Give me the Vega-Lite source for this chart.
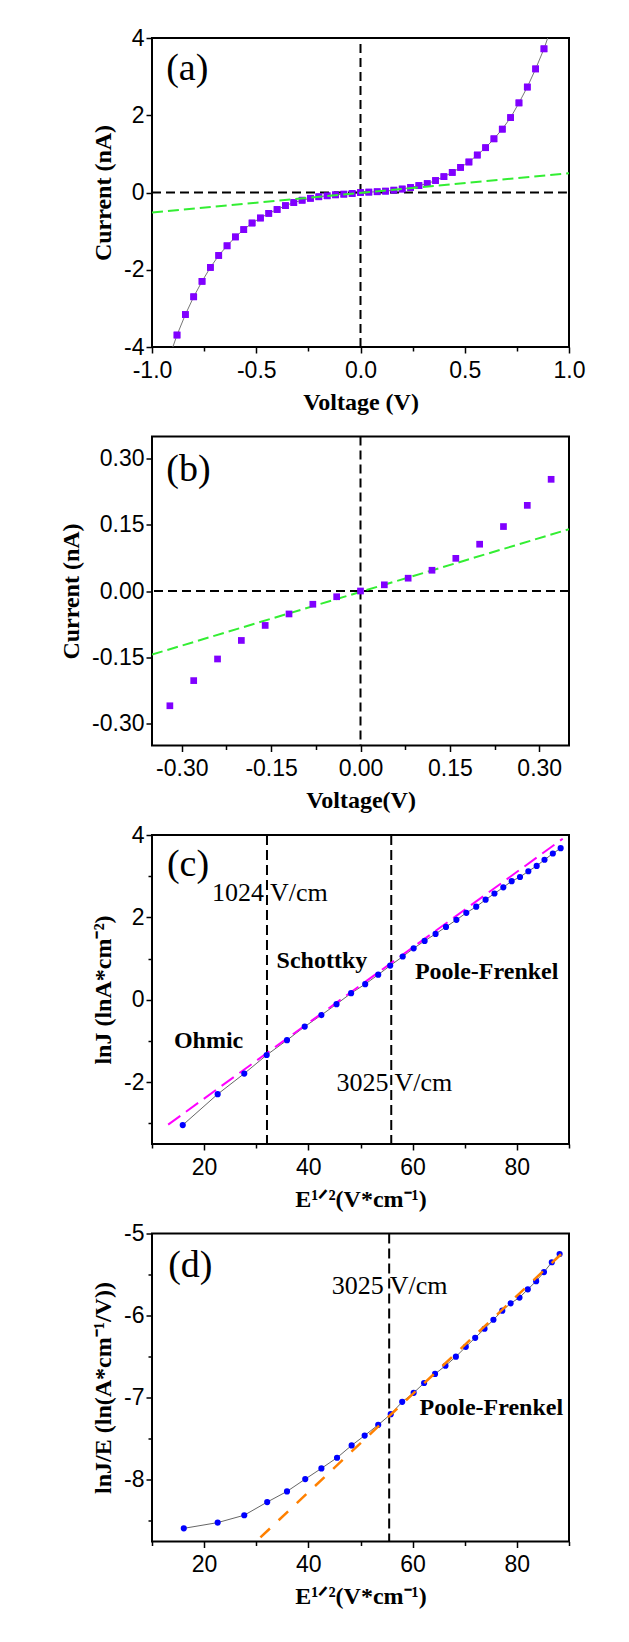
{
  "$schema": "https://vega.github.io/schema/vega-lite/v6.json",
  "padding": {"left": 58, "top": 26, "right": 10, "bottom": 10},
  "background": "white",
  "spacing": 89.5,
  "bounds": "flush",
  "datasets": {
    "a_pts": [
      {"x": -0.88, "y": -3.69}, {"x": -0.84, "y": -3.16}, {"x": -0.80, "y": -2.70}, {"x": -0.76, "y": -2.30},
      {"x": -0.72, "y": -1.94}, {"x": -0.68, "y": -1.63}, {"x": -0.64, "y": -1.38}, {"x": -0.60, "y": -1.15},
      {"x": -0.56, "y": -0.96}, {"x": -0.52, "y": -0.79}, {"x": -0.48, "y": -0.66}, {"x": -0.44, "y": -0.54},
      {"x": -0.40, "y": -0.44}, {"x": -0.36, "y": -0.34}, {"x": -0.32, "y": -0.26}, {"x": -0.28, "y": -0.20},
      {"x": -0.24, "y": -0.15}, {"x": -0.20, "y": -0.11}, {"x": -0.16, "y": -0.085}, {"x": -0.12, "y": -0.06},
      {"x": -0.08, "y": -0.043}, {"x": -0.04, "y": -0.026}, {"x": 0, "y": 0}, {"x": 0.04, "y": 0.01},
      {"x": 0.08, "y": 0.02}, {"x": 0.12, "y": 0.035}, {"x": 0.16, "y": 0.06}, {"x": 0.20, "y": 0.09},
      {"x": 0.24, "y": 0.13}, {"x": 0.28, "y": 0.18}, {"x": 0.32, "y": 0.23}, {"x": 0.36, "y": 0.31},
      {"x": 0.40, "y": 0.41}, {"x": 0.44, "y": 0.52}, {"x": 0.48, "y": 0.65}, {"x": 0.52, "y": 0.79},
      {"x": 0.56, "y": 0.97}, {"x": 0.60, "y": 1.16}, {"x": 0.64, "y": 1.39}, {"x": 0.68, "y": 1.64},
      {"x": 0.72, "y": 1.94}, {"x": 0.76, "y": 2.32}, {"x": 0.80, "y": 2.73}, {"x": 0.84, "y": 3.20},
      {"x": 0.88, "y": 3.72}
    ],
    "a_curve": [
      {"x": -0.90, "y": -4}, {"x": -0.88, "y": -3.69}, {"x": -0.84, "y": -3.16}, {"x": -0.80, "y": -2.70}, {"x": -0.76, "y": -2.30},
      {"x": -0.72, "y": -1.94}, {"x": -0.68, "y": -1.63}, {"x": -0.64, "y": -1.38}, {"x": -0.60, "y": -1.15},
      {"x": -0.56, "y": -0.96}, {"x": -0.52, "y": -0.79}, {"x": -0.48, "y": -0.66}, {"x": -0.44, "y": -0.54},
      {"x": -0.40, "y": -0.44}, {"x": -0.36, "y": -0.34}, {"x": -0.32, "y": -0.26}, {"x": -0.28, "y": -0.20},
      {"x": -0.24, "y": -0.15}, {"x": -0.20, "y": -0.11}, {"x": -0.16, "y": -0.085}, {"x": -0.12, "y": -0.06},
      {"x": -0.08, "y": -0.043}, {"x": -0.04, "y": -0.026}, {"x": 0, "y": 0}, {"x": 0.04, "y": 0.01},
      {"x": 0.08, "y": 0.02}, {"x": 0.12, "y": 0.035}, {"x": 0.16, "y": 0.06}, {"x": 0.20, "y": 0.09},
      {"x": 0.24, "y": 0.13}, {"x": 0.28, "y": 0.18}, {"x": 0.32, "y": 0.23}, {"x": 0.36, "y": 0.31},
      {"x": 0.40, "y": 0.41}, {"x": 0.44, "y": 0.52}, {"x": 0.48, "y": 0.65}, {"x": 0.52, "y": 0.79},
      {"x": 0.56, "y": 0.97}, {"x": 0.60, "y": 1.16}, {"x": 0.64, "y": 1.39}, {"x": 0.68, "y": 1.64},
      {"x": 0.72, "y": 1.94}, {"x": 0.76, "y": 2.32}, {"x": 0.80, "y": 2.73}, {"x": 0.84, "y": 3.20},
      {"x": 0.88, "y": 3.72}, {"x": 0.898, "y": 4}
    ],
    "a_fit": [{"x": -1, "y": -0.52}, {"x": 1, "y": 0.50}],
    "a_vline": [{"x": 0, "y": -4, "y2": 3.86}],
    "a_hline": [{"y": 0, "x": -1, "x2": 0.99}],
    "a_label": [{"x": -0.932, "y": 3.21, "label": "(a)"}],
    "b_pts": [
      {"x": -0.32, "y": -0.260}, {"x": -0.28, "y": -0.203}, {"x": -0.24, "y": -0.154}, {"x": -0.20, "y": -0.112},
      {"x": -0.16, "y": -0.078}, {"x": -0.12, "y": -0.052}, {"x": -0.08, "y": -0.030}, {"x": -0.04, "y": -0.013},
      {"x": 0, "y": 0}, {"x": 0.04, "y": 0.014}, {"x": 0.08, "y": 0.029}, {"x": 0.12, "y": 0.047},
      {"x": 0.16, "y": 0.074}, {"x": 0.20, "y": 0.106}, {"x": 0.24, "y": 0.146}, {"x": 0.28, "y": 0.194},
      {"x": 0.32, "y": 0.253}
    ],
    "b_fit": [{"x": -0.35, "y": -0.144}, {"x": 0.35, "y": 0.140}],
    "b_vline": [{"x": 0}],
    "b_hline": [{"y": 0}],
    "b_label": [{"x": -0.326, "y": 0.275, "label": "(b)"}],
    "c_pts": [
      {"x": 15.9, "y": -3.04}, {"x": 22.6, "y": -2.29}, {"x": 27.7, "y": -1.79}, {"x": 32.0, "y": -1.34},
      {"x": 35.9, "y": -0.98}, {"x": 39.3, "y": -0.65}, {"x": 42.5, "y": -0.37}, {"x": 45.4, "y": -0.105},
      {"x": 48.2, "y": 0.16}, {"x": 50.9, "y": 0.38}, {"x": 53.4, "y": 0.61}, {"x": 55.7, "y": 0.83},
      {"x": 58.1, "y": 1.05}, {"x": 60.2, "y": 1.25}, {"x": 62.3, "y": 1.43}, {"x": 64.4, "y": 1.60},
      {"x": 66.4, "y": 1.77}, {"x": 68.4, "y": 1.94}, {"x": 70.3, "y": 2.11}, {"x": 72.2, "y": 2.26},
      {"x": 74.0, "y": 2.43}, {"x": 75.7, "y": 2.58}, {"x": 77.4, "y": 2.73}, {"x": 79.0, "y": 2.88},
      {"x": 80.6, "y": 2.98}, {"x": 82.2, "y": 3.12}, {"x": 83.8, "y": 3.25}, {"x": 85.3, "y": 3.40},
      {"x": 86.9, "y": 3.55}, {"x": 88.4, "y": 3.68}
    ],
    "c_fit": [{"x": 13.1, "y": -3.03}, {"x": 88.8, "y": 3.91}],
    "c_vline": [{"x": 32.06}, {"x": 55.9}],
    "c_label": [{"x": 12.87, "y": 3.27, "label": "(c)"}],
    "c_note": [{"x": 32.6, "y": 2.585, "label": "1024 V/cm"}, {"x": 56.5, "y": -2.01, "label": "3025 V/cm"}],
    "c_region": [{"x": 42.6, "y": 0.93, "label": "Schottky"}, {"x": 74.2, "y": 0.685, "label": "Poole-Frenkel"}, {"x": 20.85, "y": -1.01, "label": "Ohmic"}],
    "d_pts": [
      {"x": 16.1, "y": -8.59}, {"x": 22.6, "y": -8.52}, {"x": 27.7, "y": -8.43}, {"x": 32.1, "y": -8.27},
      {"x": 35.9, "y": -8.14}, {"x": 39.4, "y": -7.99}, {"x": 42.5, "y": -7.86}, {"x": 45.5, "y": -7.73},
      {"x": 48.3, "y": -7.58}, {"x": 50.8, "y": -7.46}, {"x": 53.4, "y": -7.33}, {"x": 55.8, "y": -7.20},
      {"x": 58.0, "y": -7.05}, {"x": 60.2, "y": -6.94}, {"x": 62.2, "y": -6.82}, {"x": 64.3, "y": -6.71},
      {"x": 66.3, "y": -6.61}, {"x": 68.3, "y": -6.50}, {"x": 70.2, "y": -6.38}, {"x": 72.0, "y": -6.27},
      {"x": 73.8, "y": -6.16}, {"x": 75.5, "y": -6.05}, {"x": 77.2, "y": -5.94}, {"x": 78.8, "y": -5.85},
      {"x": 80.5, "y": -5.78}, {"x": 82.1, "y": -5.68}, {"x": 83.7, "y": -5.58}, {"x": 85.2, "y": -5.47},
      {"x": 86.7, "y": -5.35}, {"x": 88.2, "y": -5.25}
    ],
    "d_fit": [{"x": 30.8, "y": -8.70}, {"x": 88.7, "y": -5.24}],
    "d_vline": [{"x": 55.5}],
    "d_label": [{"x": 13.1, "y": -5.39, "label": "(d)"}],
    "d_note": [{"x": 55.6, "y": -5.64, "label": "3025 V/cm"}],
    "d_region": [{"x": 75.1, "y": -7.13, "label": "Poole-Frenkel"}]
  },
  "vconcat": [
    {
      "width": 417, "height": 309,
      "layer": [
        {
          "data": {"name": "a_pts"},
          "mark": {"type": "square", "size": 45, "opacity": 1, "color": "#8000ff"},
          "encoding": {
            "x": {"field": "x", "type": "quantitative", "title": "Voltage (V)",
              "scale": {"domain": [-1, 1], "nice": false, "zero": false},
              "axis": {"values": [-1, -0.75, -0.5, -0.25, 0, 0.25, 0.5, 0.75, 1], "format": ".1f",
                "labelExpr": "indexof([-0.75, -0.25, 0.25, 0.75], datum.value) >= 0 ? '' : replace(datum.label, '\u2212', '-')",
                "tickSize": {"condition": {"test": "indexof([-0.75, -0.25, 0.25, 0.75], datum.value) >= 0", "value": 4}, "value": 6}}},
            "y": {"field": "y", "type": "quantitative", "title": "Current (nA)",
              "scale": {"domain": [-4, 4], "nice": false, "zero": false},
              "axis": {"values": [-4, -3, -2, -1, 0, 1, 2, 3, 4], "format": ".0f",
                "labelExpr": "indexof([-3, -1, 1, 3], datum.value) >= 0 ? '' : replace(datum.label, '\u2212', '-')",
                "tickSize": {"condition": {"test": "indexof([-3, -1, 1, 3], datum.value) >= 0", "value": 4}, "value": 6}}}
          }
        },
        {
          "data": {"name": "a_curve"},
          "mark": {"type": "line", "color": "#777777", "strokeWidth": 1, "clip": true},
          "encoding": {
            "x": {"field": "x", "type": "quantitative", "title": "Voltage (V)"},
            "y": {"field": "y", "type": "quantitative", "title": "Current (nA)"}
          }
        },
        {
          "data": {"name": "a_vline"},
          "mark": {"type": "rule", "color": "#000", "strokeWidth": 2, "strokeDash": [9, 5]},
          "encoding": {
            "x": {"field": "x", "type": "quantitative", "title": "Voltage (V)"},
            "y": {"field": "y", "type": "quantitative", "title": "Current (nA)"},
            "y2": {"field": "y2"}
          }
        },
        {
          "data": {"name": "a_hline"},
          "mark": {"type": "rule", "color": "#000", "strokeWidth": 2, "strokeDash": [9, 5]},
          "encoding": {
            "x": {"field": "x", "type": "quantitative", "title": "Voltage (V)"},
            "x2": {"field": "x2"},
            "y": {"field": "y", "type": "quantitative", "title": "Current (nA)"}
          }
        },
        {
          "data": {"name": "a_pts"},
          "mark": {"type": "square", "size": 45, "opacity": 1, "color": "#8000ff"},
          "encoding": {
            "x": {"field": "x", "type": "quantitative", "title": "Voltage (V)"},
            "y": {"field": "y", "type": "quantitative", "title": "Current (nA)"}
          }
        },
        {
          "data": {"name": "a_fit"},
          "mark": {"type": "line", "color": "#33ee33", "strokeWidth": 2, "strokeDash": [11, 5], "clip": true},
          "encoding": {
            "x": {"field": "x", "type": "quantitative", "title": "Voltage (V)"},
            "y": {"field": "y", "type": "quantitative", "title": "Current (nA)"}
          }
        },
        {
          "data": {"name": "a_label"},
          "mark": {"type": "text", "font": "Liberation Serif", "fontSize": 38, "align": "left", "baseline": "middle", "color": "#000"},
          "encoding": {
            "x": {"field": "x", "type": "quantitative", "title": "Voltage (V)"},
            "y": {"field": "y", "type": "quantitative", "title": "Current (nA)"},
            "text": {"field": "label"}
          }
        }
      ]
    },
    {
      "width": 417, "height": 309,
      "layer": [
        {
          "data": {"name": "b_vline"},
          "mark": {"type": "rule", "color": "#000", "strokeWidth": 2, "strokeDash": [9, 5]},
          "encoding": {
            "x": {"field": "x", "type": "quantitative", "title": "Voltage(V)",
              "scale": {"domain": [-0.35, 0.35], "nice": false, "zero": false},
              "axis": {"values": [-0.3, -0.225, -0.15, -0.075, 0, 0.075, 0.15, 0.225, 0.3], "format": ".2f",
                "labelExpr": "indexof([-0.225, -0.075, 0.075, 0.225], datum.value) >= 0 ? '' : replace(datum.label, '\u2212', '-')",
                "tickSize": {"condition": {"test": "indexof([-0.225, -0.075, 0.075, 0.225], datum.value) >= 0", "value": 4}, "value": 6}}}
          }
        },
        {
          "data": {"name": "b_hline"},
          "mark": {"type": "rule", "color": "#000", "strokeWidth": 2, "strokeDash": [9, 5]},
          "encoding": {
            "y": {"field": "y", "type": "quantitative", "title": "Current (nA)",
              "scale": {"domain": [-0.35, 0.35], "nice": false, "zero": false},
              "axis": {"values": [-0.3, -0.225, -0.15, -0.075, 0, 0.075, 0.15, 0.225, 0.3], "format": ".2f",
                "labelExpr": "indexof([-0.225, -0.075, 0.075, 0.225], datum.value) >= 0 ? '' : replace(datum.label, '\u2212', '-')",
                "tickSize": {"condition": {"test": "indexof([-0.225, -0.075, 0.075, 0.225], datum.value) >= 0", "value": 4}, "value": 6}}}
          }
        },
        {
          "data": {"name": "b_fit"},
          "mark": {"type": "line", "color": "#33ee33", "strokeWidth": 2, "strokeDash": [11, 5], "clip": true},
          "encoding": {
            "x": {"field": "x", "type": "quantitative", "title": "Voltage(V)"},
            "y": {"field": "y", "type": "quantitative", "title": "Current (nA)"}
          }
        },
        {
          "data": {"name": "b_pts"},
          "mark": {"type": "square", "size": 45, "opacity": 1, "color": "#8000ff"},
          "encoding": {
            "x": {"field": "x", "type": "quantitative", "title": "Voltage(V)"},
            "y": {"field": "y", "type": "quantitative", "title": "Current (nA)"}
          }
        },
        {
          "data": {"name": "b_label"},
          "mark": {"type": "text", "font": "Liberation Serif", "fontSize": 38, "align": "left", "baseline": "middle", "color": "#000"},
          "encoding": {
            "x": {"field": "x", "type": "quantitative", "title": "Voltage(V)"},
            "y": {"field": "y", "type": "quantitative", "title": "Current (nA)"},
            "text": {"field": "label"}
          }
        }
      ]
    },
    {
      "width": 417, "height": 309,
      "layer": [
        {
          "data": {"name": "c_pts"},
          "mark": {"type": "line", "color": "#666666", "strokeWidth": 1},
          "encoding": {
            "x": {"field": "x", "type": "quantitative", "title": "E¹ᐟ²(V*cm⁻¹)",
              "scale": {"domain": [10, 90], "nice": false, "zero": false},
              "axis": {"values": [10, 20, 30, 40, 50, 60, 70, 80, 90], "format": ".0f",
                "labelExpr": "indexof([10, 30, 50, 70, 90], datum.value) >= 0 ? '' : datum.label",
                "tickSize": {"condition": {"test": "indexof([10, 30, 50, 70, 90], datum.value) >= 0", "value": 4}, "value": 6}}},
            "y": {"field": "y", "type": "quantitative", "title": "lnJ (lnA*cm⁻²)",
              "scale": {"domain": [-3.5, 4], "nice": false, "zero": false},
              "axis": {"values": [-3, -2, -1, 0, 1, 2, 3, 4], "format": ".0f",
                "labelExpr": "indexof([-3, -1, 1, 3], datum.value) >= 0 ? '' : replace(datum.label, '\u2212', '-')",
                "tickSize": {"condition": {"test": "indexof([-3, -1, 1, 3], datum.value) >= 0", "value": 4}, "value": 6}}}
          }
        },
        {
          "data": {"name": "c_vline"},
          "mark": {"type": "rule", "color": "#000", "strokeWidth": 2, "strokeDash": [10, 5]},
          "encoding": {
            "x": {"field": "x", "type": "quantitative", "title": "E¹ᐟ²(V*cm⁻¹)"}
          }
        },
        {
          "data": {"name": "c_fit"},
          "mark": {"type": "line", "color": "#ff00ff", "strokeWidth": 2, "strokeDash": [15, 7], "clip": true},
          "encoding": {
            "x": {"field": "x", "type": "quantitative", "title": "E¹ᐟ²(V*cm⁻¹)"},
            "y": {"field": "y", "type": "quantitative", "title": "lnJ (lnA*cm⁻²)"}
          }
        },
        {
          "data": {"name": "c_pts"},
          "mark": {"type": "circle", "size": 38, "opacity": 1, "color": "#0000ff"},
          "encoding": {
            "x": {"field": "x", "type": "quantitative", "title": "E¹ᐟ²(V*cm⁻¹)"},
            "y": {"field": "y", "type": "quantitative", "title": "lnJ (lnA*cm⁻²)"}
          }
        },
        {
          "data": {"name": "c_label"},
          "mark": {"type": "text", "font": "Liberation Serif", "fontSize": 38, "align": "left", "baseline": "middle", "color": "#000"},
          "encoding": {
            "x": {"field": "x", "type": "quantitative", "title": "E¹ᐟ²(V*cm⁻¹)"},
            "y": {"field": "y", "type": "quantitative", "title": "lnJ (lnA*cm⁻²)"},
            "text": {"field": "label"}
          }
        },
        {
          "data": {"name": "c_note"},
          "mark": {"type": "text", "font": "Liberation Serif", "fontSize": 26, "align": "center", "baseline": "middle", "color": "#000"},
          "encoding": {
            "x": {"field": "x", "type": "quantitative", "title": "E¹ᐟ²(V*cm⁻¹)"},
            "y": {"field": "y", "type": "quantitative", "title": "lnJ (lnA*cm⁻²)"},
            "text": {"field": "label"}
          }
        },
        {
          "data": {"name": "c_region"},
          "mark": {"type": "text", "font": "Liberation Serif", "fontSize": 24, "fontWeight": "bold", "align": "center", "baseline": "middle", "color": "#000"},
          "encoding": {
            "x": {"field": "x", "type": "quantitative", "title": "E¹ᐟ²(V*cm⁻¹)"},
            "y": {"field": "y", "type": "quantitative", "title": "lnJ (lnA*cm⁻²)"},
            "text": {"field": "label"}
          }
        }
      ]
    },
    {
      "width": 417, "height": 308,
      "layer": [
        {
          "data": {"name": "d_pts"},
          "mark": {"type": "line", "color": "#666666", "strokeWidth": 1},
          "encoding": {
            "x": {"field": "x", "type": "quantitative", "title": "E¹ᐟ²(V*cm⁻¹)",
              "scale": {"domain": [10, 90], "nice": false, "zero": false},
              "axis": {"values": [10, 20, 30, 40, 50, 60, 70, 80, 90], "format": ".0f",
                "labelExpr": "indexof([10, 30, 50, 70, 90], datum.value) >= 0 ? '' : datum.label",
                "tickSize": {"condition": {"test": "indexof([10, 30, 50, 70, 90], datum.value) >= 0", "value": 4}, "value": 6}}},
            "y": {"field": "y", "type": "quantitative", "title": "lnJ/E (ln(A*cm⁻¹/V))",
              "scale": {"domain": [-8.75, -5], "nice": false, "zero": false},
              "axis": {"values": [-8.5, -8, -7.5, -7, -6.5, -6, -5.5, -5], "format": ".1f",
                "labelExpr": "indexof([-8.5, -7.5, -6.5, -5.5], datum.value) >= 0 ? '' : replace(format(datum.value, '.0f'), '\u2212', '-')",
                "tickSize": {"condition": {"test": "indexof([-8.5, -7.5, -6.5, -5.5], datum.value) >= 0", "value": 4}, "value": 6}}}
          }
        },
        {
          "data": {"name": "d_vline"},
          "mark": {"type": "rule", "color": "#000", "strokeWidth": 2, "strokeDash": [10, 5]},
          "encoding": {
            "x": {"field": "x", "type": "quantitative", "title": "E¹ᐟ²(V*cm⁻¹)"}
          }
        },
        {
          "data": {"name": "d_pts"},
          "mark": {"type": "circle", "size": 38, "opacity": 1, "color": "#0000ff"},
          "encoding": {
            "x": {"field": "x", "type": "quantitative", "title": "E¹ᐟ²(V*cm⁻¹)"},
            "y": {"field": "y", "type": "quantitative", "title": "lnJ/E (ln(A*cm⁻¹/V))"}
          }
        },
        {
          "data": {"name": "d_fit"},
          "mark": {"type": "line", "color": "#ff8000", "strokeWidth": 2.5, "strokeDash": [13, 12], "clip": true},
          "encoding": {
            "x": {"field": "x", "type": "quantitative", "title": "E¹ᐟ²(V*cm⁻¹)"},
            "y": {"field": "y", "type": "quantitative", "title": "lnJ/E (ln(A*cm⁻¹/V))"}
          }
        },
        {
          "data": {"name": "d_label"},
          "mark": {"type": "text", "font": "Liberation Serif", "fontSize": 38, "align": "left", "baseline": "middle", "color": "#000"},
          "encoding": {
            "x": {"field": "x", "type": "quantitative", "title": "E¹ᐟ²(V*cm⁻¹)"},
            "y": {"field": "y", "type": "quantitative", "title": "lnJ/E (ln(A*cm⁻¹/V))"},
            "text": {"field": "label"}
          }
        },
        {
          "data": {"name": "d_note"},
          "mark": {"type": "text", "font": "Liberation Serif", "fontSize": 26, "align": "center", "baseline": "middle", "color": "#000"},
          "encoding": {
            "x": {"field": "x", "type": "quantitative", "title": "E¹ᐟ²(V*cm⁻¹)"},
            "y": {"field": "y", "type": "quantitative", "title": "lnJ/E (ln(A*cm⁻¹/V))"},
            "text": {"field": "label"}
          }
        },
        {
          "data": {"name": "d_region"},
          "mark": {"type": "text", "font": "Liberation Serif", "fontSize": 24, "fontWeight": "bold", "align": "center", "baseline": "middle", "color": "#000"},
          "encoding": {
            "x": {"field": "x", "type": "quantitative", "title": "E¹ᐟ²(V*cm⁻¹)"},
            "y": {"field": "y", "type": "quantitative", "title": "lnJ/E (ln(A*cm⁻¹/V))"},
            "text": {"field": "label"}
          }
        }
      ]
    }
  ],
  "config": {
    "view": {"stroke": "#000000", "strokeWidth": 2},
    "axis": {
      "domain": false, "grid": false,
      "labelFont": "Liberation Sans", "labelFontSize": 23, "labelColor": "#000000",
      "labelFlush": false, "labelOverlap": false,
      "tickColor": "#000000", "tickWidth": 1.5,
      "titleFont": "Liberation Serif", "titleFontSize": 24, "titleFontWeight": "bold", "titleColor": "#000000"
    },
    "axisX": {"labelPadding": 6, "titlePadding": 8},
    "axisY": {"labelPadding": 2, "titlePadding": 8}
  }
}
